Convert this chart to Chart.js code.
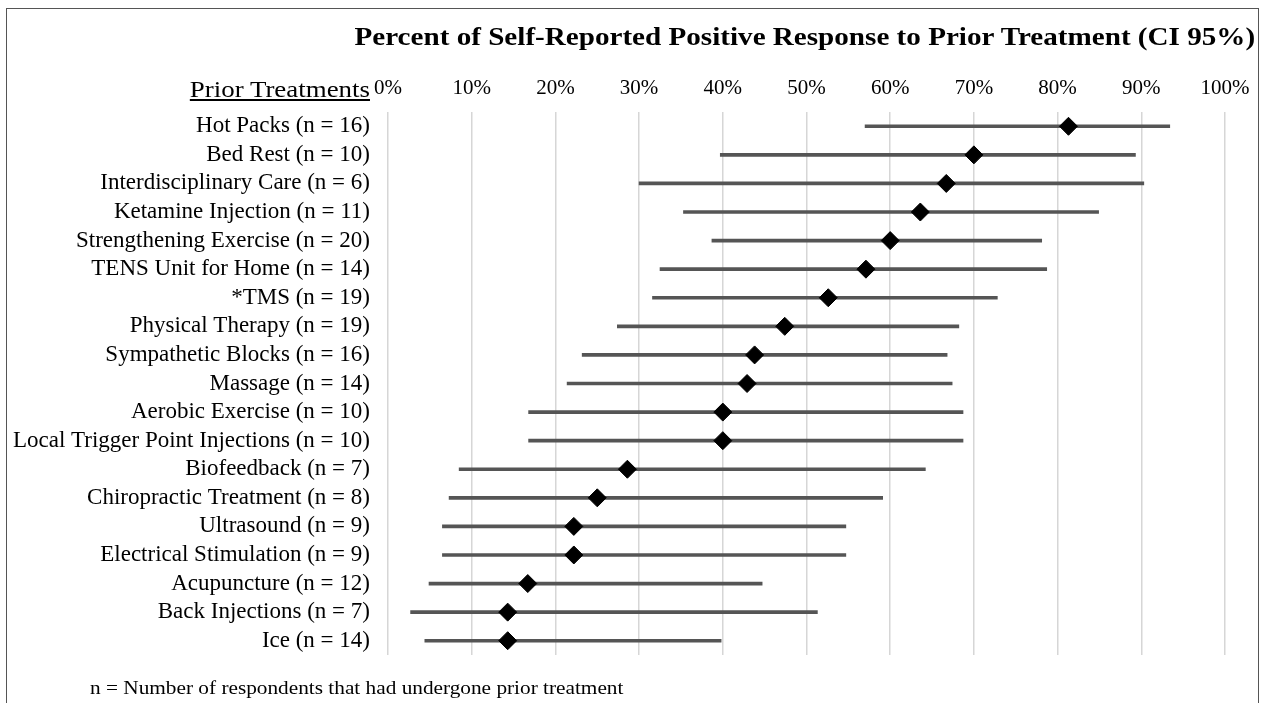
<!DOCTYPE html>
<html>
<head>
<meta charset="utf-8">
<script src="https://cdn.jsdelivr.net/npm/chart.js@4"></script>
<style>
  body { margin:0; background:#fff; font-family:"Liberation Serif", serif; }
  #wrap { position:relative; width:1267px; height:703px; overflow:hidden; }
  #frame { position:absolute; left:6px; top:8px; width:1253px; height:700px; border:1.5px solid #555; box-sizing:border-box; pointer-events:none; }
  canvas { position:absolute; left:0; top:0; }
  .txt { position:absolute; white-space:nowrap; color:#000; }
  #title { right:12px; top:22px; font-size:26px; font-weight:bold; transform:scaleX(1.12); transform-origin:right center; }
  #yhead { right:897px; top:77px; font-size:23px; text-decoration:underline; transform:scaleX(1.17); transform-origin:right center; }
  #note { left:90px; top:677px; font-size:19px; transform:scaleX(1.12); transform-origin:left center; }
</style>
</head>
<body>
<div id="wrap">
  <canvas id="c" width="1267" height="703"></canvas>
  <div id="frame"></div>
  <div class="txt" id="title">Percent of Self-Reported Positive Response to Prior Treatment (CI 95%)</div>
  <div class="txt" id="yhead">Prior Treatments</div>
  <div class="txt" id="note">n = Number of respondents that had undergone prior treatment</div>
</div>
<script>
// data (percent)
const treatments = [
  'Hot Packs (n = 16)', 'Bed Rest (n = 10)', 'Interdisciplinary Care (n = 6)',
  'Ketamine Injection (n = 11)', 'Strengthening Exercise (n = 20)', 'TENS Unit for Home (n = 14)',
  '*TMS (n = 19)', 'Physical Therapy (n = 19)', 'Sympathetic Blocks (n = 16)', 'Massage (n = 14)',
  'Aerobic Exercise (n = 10)', 'Local Trigger Point Injections (n = 10)', 'Biofeedback (n = 7)',
  'Chiropractic Treatment (n = 8)', 'Ultrasound (n = 9)', 'Electrical Stimulation (n = 9)',
  'Acupuncture (n = 12)', 'Back Injections (n = 7)', 'Ice (n = 14)'
];
const pct   = [81.3, 70.0, 66.7, 63.6, 60.0, 57.1, 52.6, 47.4, 43.8, 42.9, 40.0, 40.0, 28.6, 25.0, 22.2, 22.2, 16.7, 14.3, 14.3];
const ciLow = [57.0, 39.7, 30.0, 35.3, 38.7, 32.5, 31.6, 27.4, 23.2, 21.4, 16.8, 16.8, 8.5, 7.3, 6.5, 6.5, 4.9, 2.7, 4.4];
const ciHigh= [93.4, 89.3, 90.3, 84.9, 78.1, 78.7, 72.8, 68.2, 66.8, 67.4, 68.7, 68.7, 64.2, 59.1, 54.7, 54.7, 44.7, 51.3, 39.8];
const xTicks = [0,10,20,30,40,50,60,70,80,90,100];

const serif = '"Liberation Serif", "Times New Roman", serif';

new Chart(document.getElementById('c'), {
  type: 'bar',
  data: {
    labels: treatments,
    datasets: [
      { // point estimates
        type: 'line', indexAxis: 'y', data: pct, showLine: false,
        pointStyle: 'rectRot', pointRadius: 9, pointBackgroundColor: '#000', pointBorderColor: '#000',
        pointBorderWidth: 1, order: 0
      },
      { // 95% CI
        data: ciLow.map((lo, i) => [lo, ciHigh[i]]),
        backgroundColor: '#555', barThickness: 3, borderSkipped: false, order: 1
      }
    ]
  },
  options: {
    indexAxis: 'y',
    responsive: false,
    animation: false,
    layout: { padding: { left: 0, top: 0, right: 42, bottom: 48 } },
    plugins: { legend: { display: false }, tooltip: { enabled: false } },
    scales: {
      x: {
        type: 'linear', position: 'top', min: 0, max: 100,
        afterBuildTicks: s => { s.ticks = xTicks.map(v => ({ value: v })); },
        afterFit: s => { s.height = 112; },
        ticks: { callback: v => v + '%', color: '#000', padding: 11, font: { family: serif, size: 21 } },
        grid: { color: '#d6d6d6', lineWidth: 1.5, drawTicks: false },
        border: { display: false }
      },
      y: {
        type: 'category',
        afterFit: s => { s.width = 388; },
        ticks: { autoSkip: false, color: '#000', padding: 10, font: { family: serif, size: 23 } },
        grid: { display: false },
        border: { display: false }
      }
    }
  }
});
</script>
</body>
</html>
